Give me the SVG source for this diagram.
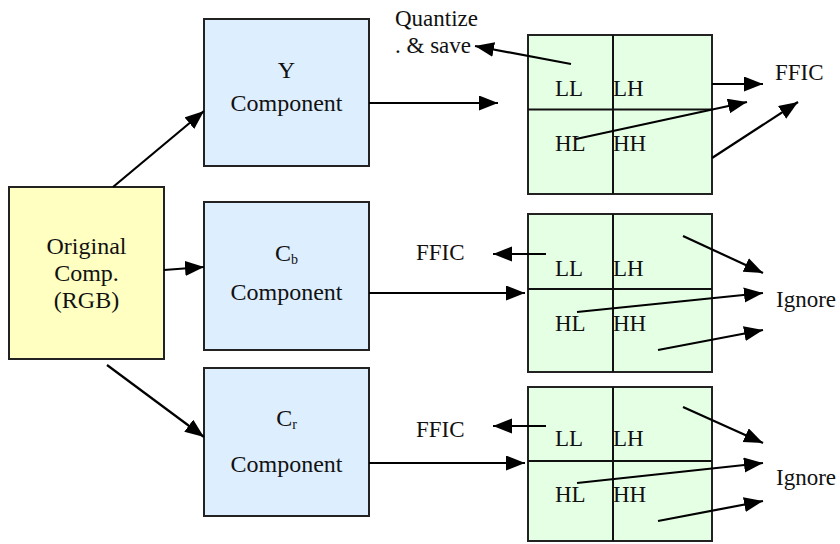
<svg xmlns="http://www.w3.org/2000/svg" width="840" height="544" viewBox="0 0 840 544">
  <defs>
    <marker id="arrow" markerUnits="userSpaceOnUse" markerWidth="22" markerHeight="18" refX="19" refY="7.5" orient="auto">
      <path d="M0,0 L19,7.5 L0,15 z" fill="#000"/>
    </marker>
  </defs>
  <style>
    .box { stroke: #222; stroke-width: 2; }
    .src { fill: #ffffc2; }
    .comp { fill: #ddeeff; }
    .band { fill: #e5ffe5; }
    .div { stroke: #111; stroke-width: 2; fill: none; }
    text { font-family: "Liberation Serif", "Times New Roman", serif; font-size: 23px; fill: #111; }
    .big { font-size: 24px; }
    .c { text-anchor: middle; }
    .sub { font-size: 14px; }
    .conn line { stroke: #000; stroke-width: 2.2; }
  </style>
  <rect width="840" height="544" fill="#fff"/>

  <!-- source image -->
  <g id="original">
    <rect class="box src" x="9" y="187" width="155" height="172"/>
    <text class="c big" x="86.5" y="254">Original</text>
    <text class="c big" x="86.5" y="281">Comp.</text>
    <text class="c big" x="86.5" y="308">(RGB)</text>
  </g>

  <!-- colour components -->
  <g id="y-comp">
    <rect class="box comp" x="204" y="19" width="165" height="147"/>
    <text class="c big" x="286.5" y="78">Y</text>
    <text class="c big" x="286.5" y="111">Component</text>
  </g>
  <g id="cb-comp">
    <rect class="box comp" x="204" y="202" width="165" height="148"/>
    <text class="c big" x="286.5" y="261">C<tspan class="sub" dy="3">b</tspan></text>
    <text class="c big" x="286.5" y="300">Component</text>
  </g>
  <g id="cr-comp">
    <rect class="box comp" x="204" y="368" width="165" height="148"/>
    <text class="c big" x="286.5" y="426">C<tspan class="sub" dy="3">r</tspan></text>
    <text class="c big" x="286.5" y="472">Component</text>
  </g>

  <!-- wavelet subbands -->
  <g id="y-bands">
    <rect class="box band" x="528" y="35" width="184" height="159"/>
    <path class="div" d="M613,35 V194 M528,109.5 H712"/>
    <text x="555" y="96">LL</text>
    <text x="613" y="96">LH</text>
    <text x="555" y="151">HL</text>
    <text x="613" y="151">HH</text>
  </g>
  <g id="cb-bands">
    <rect class="box band" x="528" y="214" width="184" height="158"/>
    <path class="div" d="M613,214 V372 M528,289 H712"/>
    <text x="555" y="276">LL</text>
    <text x="613" y="276">LH</text>
    <text x="555" y="331">HL</text>
    <text x="613" y="331">HH</text>
  </g>
  <g id="cr-bands">
    <rect class="box band" x="528" y="387" width="184" height="154"/>
    <path class="div" d="M613,387 V541 M528,461 H712"/>
    <text x="555" y="446">LL</text>
    <text x="613" y="446">LH</text>
    <text x="555" y="502">HL</text>
    <text x="613" y="502">HH</text>
  </g>

  <!-- destinations -->
  <g id="quantize">
    <text x="395" y="26">Quantize</text>
    <text x="395" y="53">. &amp; save</text>
  </g>
  <g id="ffic-y"><text x="775" y="80">FFIC</text></g>
  <g id="ffic-cb"><text x="416" y="260">FFIC</text></g>
  <g id="ignore-cb"><text x="776" y="307">Ignore</text></g>
  <g id="ffic-cr"><text x="416" y="437">FFIC</text></g>
  <g id="ignore-cr"><text x="776" y="485">Ignore</text></g>

  <g id="connectors" class="conn">
    <line x1="113" y1="187" x2="204" y2="111" marker-end="url(#arrow)"/>
    <line x1="164" y1="270" x2="204" y2="267" marker-end="url(#arrow)"/>
    <line x1="107" y1="365" x2="204" y2="437" marker-end="url(#arrow)"/>

    <line x1="369" y1="103" x2="498" y2="103" marker-end="url(#arrow)"/>
    <line x1="369" y1="293" x2="525" y2="293" marker-end="url(#arrow)"/>
    <line x1="369" y1="463" x2="525" y2="463" marker-end="url(#arrow)"/>

    <line x1="571" y1="64" x2="475" y2="46" marker-end="url(#arrow)"/>
    <line x1="712" y1="84" x2="763" y2="84" marker-end="url(#arrow)"/>
    <line x1="576" y1="139" x2="747" y2="102" marker-end="url(#arrow)"/>
    <line x1="712" y1="158" x2="798" y2="102" marker-end="url(#arrow)"/>

    <line x1="546" y1="254" x2="493" y2="254" marker-end="url(#arrow)"/>
    <line x1="683" y1="236" x2="763" y2="273" marker-end="url(#arrow)"/>
    <line x1="577" y1="312" x2="763" y2="293" marker-end="url(#arrow)"/>
    <line x1="658" y1="350" x2="763" y2="330" marker-end="url(#arrow)"/>

    <line x1="546" y1="426" x2="493" y2="426" marker-end="url(#arrow)"/>
    <line x1="683" y1="407" x2="763" y2="443" marker-end="url(#arrow)"/>
    <line x1="577" y1="483" x2="763" y2="463" marker-end="url(#arrow)"/>
    <line x1="658" y1="521" x2="763" y2="501" marker-end="url(#arrow)"/>
  </g>
</svg>
